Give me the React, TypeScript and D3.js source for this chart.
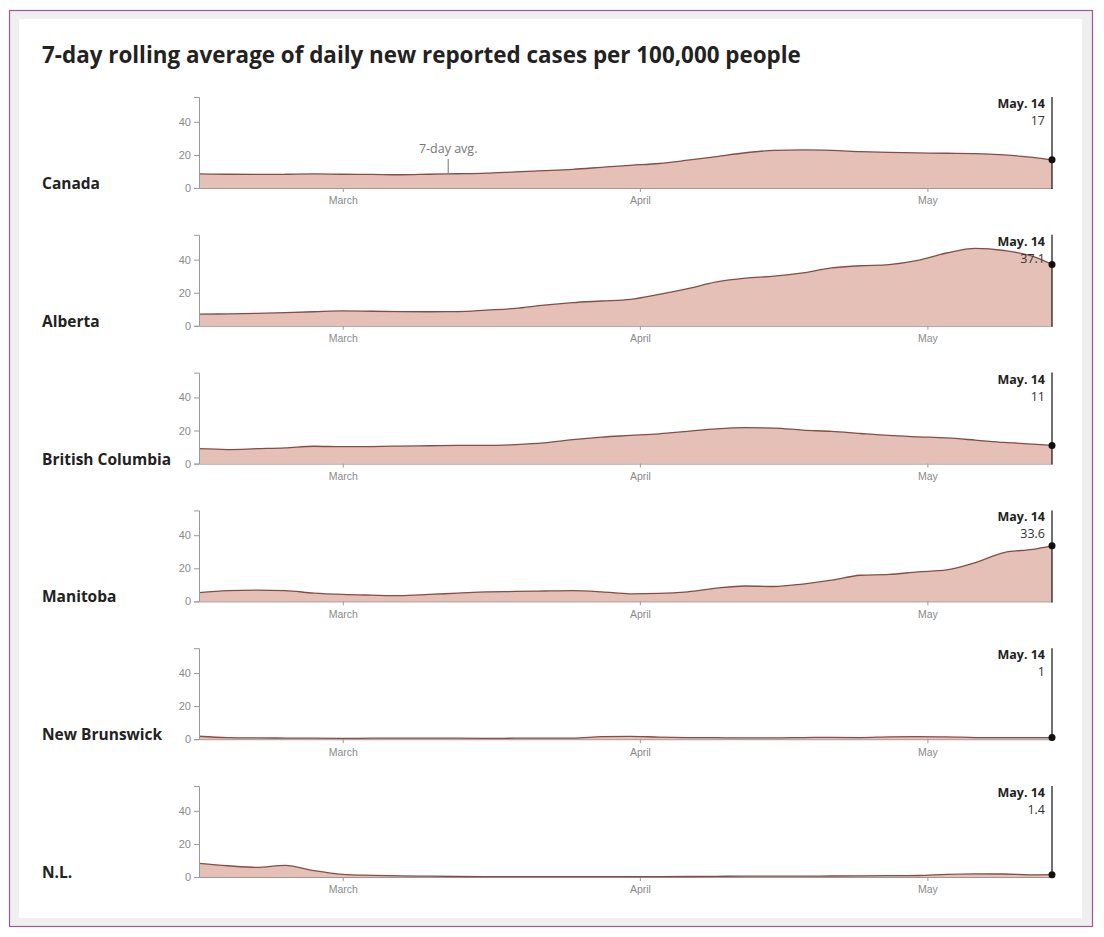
import React, { useEffect, useRef } from "react";
import * as d3 from "d3";

const title = "7-day rolling average of daily new reported cases per 100,000 people";

const dates = [
  "2021-02-14", "2021-02-17", "2021-02-20", "2021-02-23", "2021-02-26",
  "2021-03-01", "2021-03-04", "2021-03-07", "2021-03-10", "2021-03-13",
  "2021-03-16", "2021-03-19", "2021-03-22", "2021-03-25", "2021-03-28",
  "2021-03-31", "2021-04-03", "2021-04-06", "2021-04-09", "2021-04-12",
  "2021-04-15", "2021-04-18", "2021-04-21", "2021-04-24", "2021-04-27",
  "2021-04-30", "2021-05-03", "2021-05-06", "2021-05-09", "2021-05-12",
  "2021-05-14",
];

const regions = ["Canada", "Alberta", "British Columbia", "Manitoba", "New Brunswick", "N.L."];

const canada = [8.5, 8.3, 8.2, 8.3, 8.5, 8.3, 8.2, 8.0, 8.3, 8.6, 9.0, 9.8, 10.5, 11.3, 12.5, 13.7, 14.8, 16.8, 19.0, 21.3, 22.7, 23.0, 22.7, 22.0, 21.5, 21.2, 21.0, 20.8, 20.0, 18.5, 17];
const alberta = [7.0, 7.2, 7.5, 8.0, 8.5, 9.0, 8.8, 8.6, 8.5, 8.6, 9.5, 10.5, 12.5, 14.0, 15.0, 16.0, 19.0, 22.5, 26.5, 28.8, 30.0, 32.0, 35.0, 36.3, 37.0, 39.5, 44.0, 46.8, 45.5, 42.0, 37.1];
const britishColumbia = [9.0, 8.5, 9.0, 9.5, 10.5, 10.2, 10.3, 10.6, 10.8, 11.0, 11.0, 11.5, 12.5, 14.5, 16.0, 17.0, 18.0, 19.5, 21.0, 21.7, 21.5, 20.2, 19.5, 18.2, 17.0, 16.2, 15.5, 14.2, 12.8, 11.8, 11.0];
const manitoba = [5.3, 6.5, 6.8, 6.5, 5.0, 4.2, 3.8, 3.5, 4.2, 5.0, 5.8, 6.0, 6.3, 6.5, 5.8, 4.6, 4.8, 5.8, 8.0, 9.3, 9.0, 10.5, 12.8, 15.8, 16.3, 17.8, 19.0, 23.5, 29.5, 31.5, 33.6];
const newBrunswick = [1.8, 1.0, 0.8, 0.7, 0.6, 0.5, 0.6, 0.7, 0.7, 0.6, 0.5, 0.6, 0.7, 0.7, 1.5, 1.7, 1.3, 1.0, 0.9, 0.8, 0.8, 1.0, 1.1, 1.0, 1.4, 1.5, 1.4, 1.0, 0.9, 1.0, 1.0];
const newfoundland = [8.3, 6.8, 5.8, 7.0, 3.8, 1.6, 1.0, 0.7, 0.5, 0.3, 0.2, 0.2, 0.2, 0.2, 0.2, 0.2, 0.2, 0.3, 0.4, 0.5, 0.5, 0.5, 0.6, 0.7, 0.8, 0.9, 1.6, 1.9, 1.8, 1.3, 1.4];

const seriesList = [canada, alberta, britishColumbia, manitoba, newBrunswick, newfoundland];
const endValueLabels = ["17", "37.1", "11", "33.6", "1", "1.4"];
const endDateLabel = "May. 14";
const yTicks = [0, 20, 40];
const yMax = 55;
const xStart = "2021-02-14";
const xEnd = "2021-05-14";
const monthTicks = ["2021-03-01", "2021-04-01", "2021-05-01"];
const annotationText = "7-day avg.";
const annotationDate = "2021-03-12";

const W = 1104;
const H = 937;
const plotLeft = 199;
const plotRight = 1052;
const firstTop = 97;
const panelH = 91;
const panelStep = 137.8;

const FILL = "#e4c0b6";
const STROKE = "#8e4a40";
const FONT = "'Open Sans', 'DejaVu Sans', sans-serif";
const AXFONT = "'Liberation Sans', Arial, sans-serif";

const parse = d3.timeParse("%Y-%m-%d");
const parsedDates = dates.map((d) => parse(d) as Date);

const x = d3.scaleTime().domain([parse(xStart) as Date, parse(xEnd) as Date]).range([plotLeft, plotRight]);
const y = d3.scaleLinear().domain([0, yMax]).range([panelH, 0]);

function valueAt(series: number[], date: Date): number {
  const i = d3.bisectLeft(parsedDates, date);
  if (i <= 0) return series[0];
  if (i >= parsedDates.length) return series[series.length - 1];
  const d0 = parsedDates[i - 1].getTime();
  const d1 = parsedDates[i].getTime();
  const t = (date.getTime() - d0) / (d1 - d0);
  return series[i - 1] + t * (series[i] - series[i - 1]);
}

function Panel({ idx }: { idx: number }) {
  const yRef = useRef<SVGGElement>(null);
  const xRef = useRef<SVGGElement>(null);
  const series = seriesList[idx];
  const pts = series.map((v, i) => ({ d: parsedDates[i], v }));
  const top = firstTop + idx * panelStep;

  useEffect(() => {
    if (yRef.current) {
      const g = d3.select(yRef.current);
      g.selectAll("*").remove();
      g.call(d3.axisLeft(y).tickValues(yTicks).tickSize(5).tickPadding(3));
      g.selectAll("path, line").attr("stroke", "#9a9a9a");
      g.selectAll("text").attr("fill", "#8a8a8a").style("font-family", AXFONT).style("font-size", "11px");
    }
    if (xRef.current) {
      const g = d3.select(xRef.current);
      g.selectAll("*").remove();
      g.call(
        d3
          .axisBottom(x)
          .tickValues(monthTicks.map((m) => parse(m) as Date))
          .tickFormat((d) => d3.timeFormat("%B")(d as Date))
          .tickSize(4)
          .tickSizeOuter(0)
          .tickPadding(5)
      );
      g.selectAll("path, line").attr("stroke", "#9a9a9a");
      g.selectAll("text").attr("fill", "#8a8a8a").style("font-family", AXFONT).style("font-size", "10.5px");
    }
  }, []);

  const area = d3
    .area<{ d: Date; v: number }>()
    .x((p) => x(p.d))
    .y0(y(0))
    .y1((p) => y(p.v))
    .curve(d3.curveMonotoneX);
  const line = d3
    .line<{ d: Date; v: number }>()
    .x((p) => x(p.d))
    .y((p) => y(p.v))
    .curve(d3.curveMonotoneX);

  const last = pts[pts.length - 1];
  const annDate = parse(annotationDate) as Date;
  const annVal = valueAt(series, annDate);

  return (
    <g transform={`translate(0,${top})`}>
      <text x={42} y={y(0) + 1} fontFamily={FONT} fontWeight={700} fontSize={15.5} fill="#222">
        {regions[idx]}
      </text>
      <path d={area(pts) || ""} fill={FILL} />
      <g ref={xRef} transform={`translate(0,${y(0)})`} />
      <path d={line(pts) || ""} fill="none" stroke={STROKE} strokeWidth={1.3} />
      <g ref={yRef} transform={`translate(${plotLeft},0)`} />
      <line x1={x(last.d)} x2={x(last.d)} y1={0} y2={y(0) + 1} stroke="#111" strokeWidth={1.2} />
      <circle cx={x(last.d)} cy={y(last.v)} r={3.5} fill="#111" />
      <text x={x(last.d) - 7} y={11} textAnchor="end" fontFamily={FONT} fontWeight={700} fontSize={12.5} fill="#222">
        {endDateLabel}
      </text>
      <text x={x(last.d) - 7} y={28} textAnchor="end" fontFamily={FONT} fontSize={12.5} fill="#333">
        {endValueLabels[idx]}
      </text>
      {idx === 0 && (
        <g>
          <text x={x(annDate)} y={y(annVal) - 21} textAnchor="middle" fontFamily={FONT} fontSize={12.5} fill="#777">
            {annotationText}
          </text>
          <line x1={x(annDate)} x2={x(annDate)} y1={y(annVal) - 15} y2={y(annVal)} stroke="#777" strokeWidth={1} />
        </g>
      )}
    </g>
  );
}

export default function App() {
  return (
    <div style={{ position: "absolute", left: 0, top: 0 }}>
      <svg width={W} height={H} style={{ display: "block", background: "#fff" }}>
        <rect x={9.5} y={10.5} width={1083} height={916} fill="#efeff0" stroke="#a3569a" strokeWidth={1.2} />
        <rect x={19} y={19} width={1063} height={899} fill="#fff" />
        <text x={42} y={63} fontFamily={FONT} fontWeight={700} fontSize={22.4} fill="#222">
          {title}
        </text>
        {regions.map((r, i) => (
          <Panel key={r} idx={i} />
        ))}
      </svg>
    </div>
  );
}
